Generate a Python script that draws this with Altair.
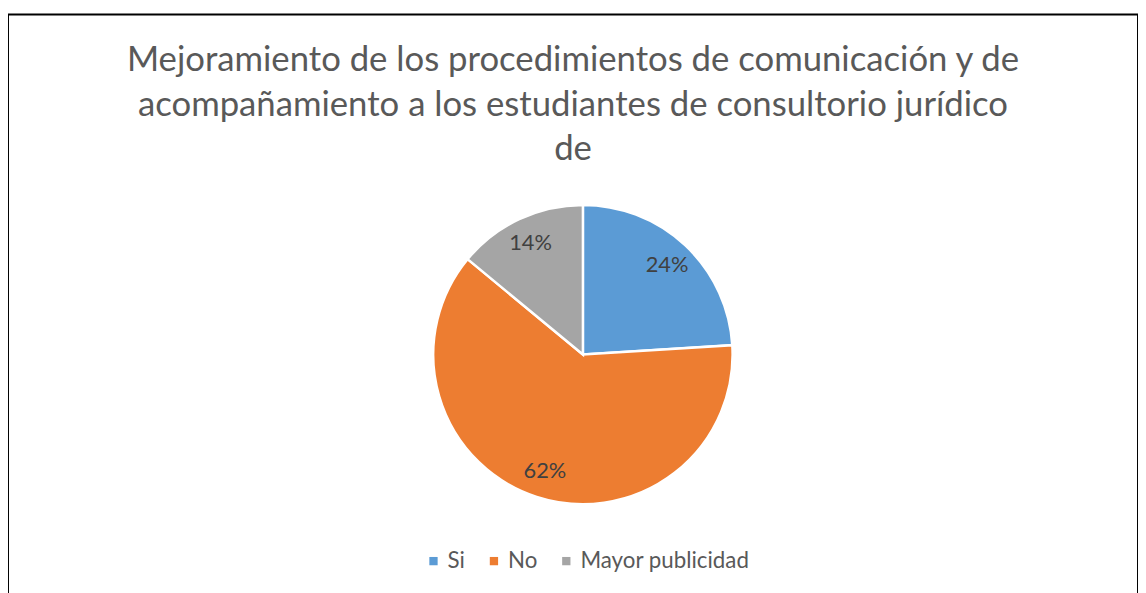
import altair as alt
import pandas as pd

categories = ["Si", "No", "Mayor publicidad"]
values = [24, 62, 14]
labels = ["24%", "62%", "14%"]
colors = ["#5B9BD5", "#ED7D31", "#A5A5A5"]
title_lines = [
    "Mejoramiento de los procedimientos de comunicación y de",
    "acompañamiento a los estudiantes de consultorio jurídico",
    "de",
]

df = pd.DataFrame({"cat": categories, "val": values, "lab": labels, "ord": [0, 1, 2]})

FONT = "Lato"
CX, CY = 580, 343
R = 151

base = alt.Chart(df).encode(
    theta=alt.Theta("val:Q", stack=True),
    order=alt.Order("ord:Q"),
    x=alt.value(CX),
    y=alt.value(CY),
)

pie = base.mark_arc(outerRadius=R, stroke="white", strokeWidth=2.5).encode(
    color=alt.Color(
        "cat:N",
        scale=alt.Scale(domain=categories, range=colors),
        sort=categories,
        legend=alt.Legend(
            title=None,
            orient="none",
            direction="horizontal",
            legendX=418,
            legendY=540,
            symbolType="square",
            symbolSize=70,
            symbolStrokeWidth=0,
            labelFont=FONT,
            labelFontSize=22.5,
            labelColor="#595959",
            labelLimit=400,
            columnPadding=17,
            labelOffset=3,
        ),
    )
)

text = base.mark_text(radius=124, font=FONT, fontSize=22, color="#404040").encode(
    text="lab:N"
)

chart = (
    alt.layer(pie, text)
    .properties(
        width=1140,
        height=590,
        padding={"left": 0, "top": 4, "right": 0, "bottom": 0},
        autosize=alt.AutoSizeParams(type="none"),
        title=alt.TitleParams(
            text=title_lines,
            anchor="middle",
            baseline="top",
            dy=158,
            font=FONT,
            fontSize=35,
            fontWeight="normal",
            lineHeight=45,
            color="#595959",
        ),
    )
    .configure_view(stroke="black", strokeWidth=2)
)

chart.save("out.html", embed_options={"renderer": "svg", "actions": False})
